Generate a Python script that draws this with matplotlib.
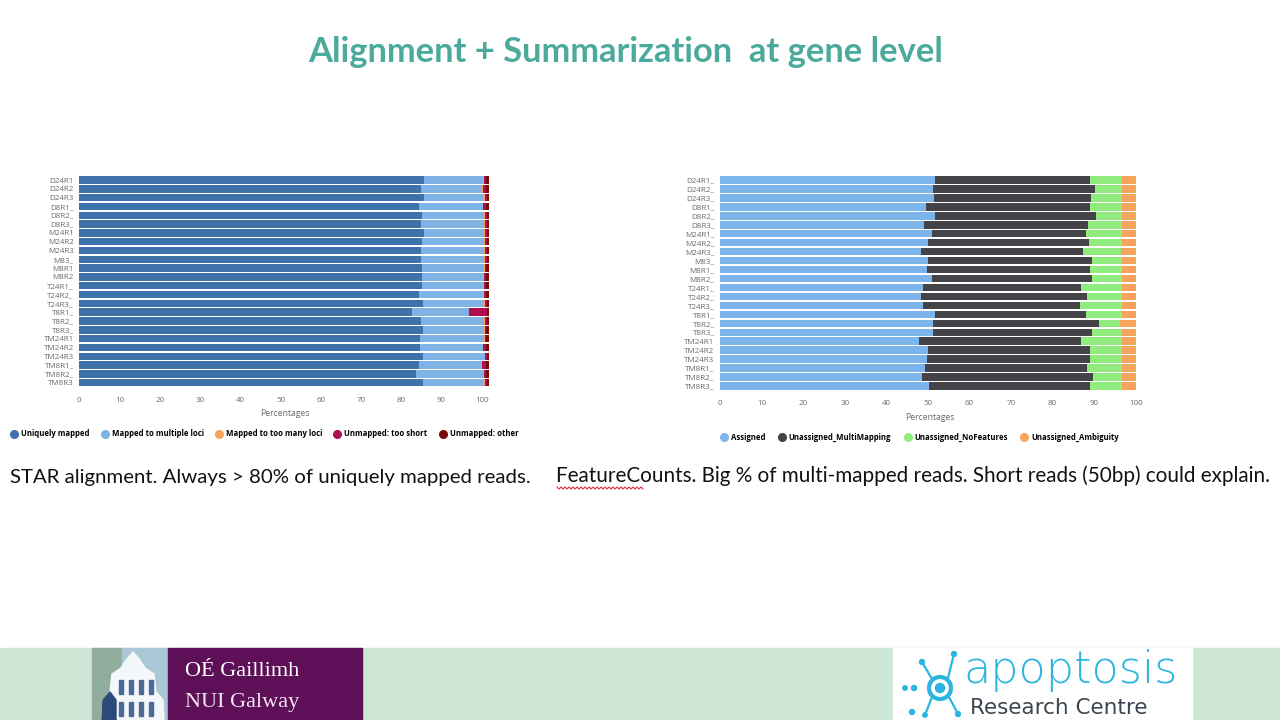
import numpy as np
import matplotlib
matplotlib.use("Agg")
import matplotlib.pyplot as plt
from matplotlib.lines import Line2D
from matplotlib.patches import Rectangle, Polygon, Circle

# ---------------- data ----------------
star_samples = ["D24R1", "D24R2", "D24R3", "D8R1_", "D8R2_", "D8R3_", "M24R1", "M24R2",
                "M24R3", "M83_", "M8R1", "M8R2", "T24R1_", "T24R2_", "T24R3_", "T8R1_",
                "T8R2_", "T8R3_", "TM24R1", "TM24R2", "TM24R3", "TM8R1_", "TM8R2_", "TM8R3"]
star_unique = [85.7, 84.8, 85.7, 84.4, 85.1, 84.9, 85.7, 85.2, 84.8, 84.9, 85.2, 85.2,
               85.1, 84.4, 85.3, 82.6, 84.9, 85.3, 84.7, 84.6, 85.3, 84.4, 83.7, 85.3]
star_multi = [14.7, 15.2, 14.9, 15.8, 15.5, 15.7, 14.9, 15.4, 15.8, 15.7, 15.3, 15.2,
              15.2, 16.0, 15.3, 14.2, 15.7, 15.2, 15.8, 15.6, 15.4, 15.4, 16.6, 15.3]
star_too_many = [0.2, 0.2, 0.2, 0.2, 0.2, 0.2, 0.2, 0.2, 0.2, 0.2, 0.2, 0.2,
                 0.2, 0.2, 0.2, 0.1, 0.2, 0.2, 0.2, 0.2, 0.2, 0.2, 0.2, 0.2]
star_too_short = [0.4, 0.8, 0.4, 0.7, 0.4, 0.4, 0.4, 0.4, 0.4, 0.4, 0.4, 0.5,
                  0.6, 0.5, 0.4, 4.4, 0.4, 0.4, 0.4, 0.7, 0.3, 1.0, 0.6, 0.4]
star_other = [0.7, 0.7, 0.5, 0.6, 0.5, 0.5, 0.5, 0.5, 0.5, 0.5, 0.6, 0.6,
              0.6, 0.6, 0.5, 0.4, 0.5, 0.6, 0.6, 0.6, 0.5, 0.7, 0.6, 0.5]
star_series = ["Uniquely mapped", "Mapped to multiple loci", "Mapped to too many loci",
               "Unmapped: too short", "Unmapped: other"]

fc_samples = ["D24R1_", "D24R2_", "D24R3_", "D8R1_", "D8R2_", "D8R3_", "M24R1_", "M24R2_",
              "M24R3_", "M83_", "M8R1_", "M8R2_", "T24R1_", "T24R2_", "T24R3_", "T8R1_",
              "T8R2_", "T8R3_", "TM24R1", "TM24R2", "TM24R3", "TM8R1_", "TM8R2_", "TM8R3_"]
fc_assigned = [51.6, 51.2, 51.4, 49.5, 51.6, 49.1, 50.9, 50.1, 48.3, 50.0, 49.8, 51.1,
               48.9, 48.3, 48.8, 51.6, 51.2, 51.3, 47.9, 50.0, 49.7, 49.4, 48.5, 50.2]
fc_multimapping = [37.5, 38.9, 37.9, 39.4, 38.8, 39.4, 37.2, 38.7, 39.1, 39.6, 39.3, 38.5,
                   37.9, 40.1, 37.8, 36.5, 39.9, 38.3, 39.0, 38.9, 39.2, 38.8, 41.2, 38.7]
fc_nofeatures = [7.5, 6.5, 7.3, 7.7, 6.2, 8.1, 8.5, 7.8, 9.0, 7.0, 7.5, 7.0,
                 9.8, 8.2, 10.0, 8.5, 5.2, 7.0, 9.7, 7.7, 7.7, 8.4, 6.9, 7.7]
fc_ambiguity = [3.4, 3.4, 3.4, 3.4, 3.4, 3.4, 3.4, 3.4, 3.6, 3.4, 3.4, 3.4,
                3.4, 3.4, 3.4, 3.4, 3.7, 3.4, 3.4, 3.4, 3.4, 3.4, 3.4, 3.4]
fc_series = ["Assigned", "Unassigned_MultiMapping", "Unassigned_NoFeatures",
             "Unassigned_Ambiguity"]

x_ticks = [0, 10, 20, 30, 40, 50, 60, 70, 80, 90, 100]

title_text = "Alignment + Summarization  at gene level"
caption_left = "STAR alignment. Always > 80% of uniquely mapped reads."
caption_right = "FeatureCounts. Big % of multi-mapped reads. Short reads (50bp) could explain."

# ---------------- figure ----------------
W, H = 1280, 720
fig = plt.figure(figsize=(12.8, 7.2), dpi=100, facecolor="white")
bg = fig.add_axes([0, 0, 1, 1], zorder=0)
bg.set_xlim(0, W)
bg.set_ylim(H, 0)
bg.axis("off")

fig.canvas.draw()
renderer = fig.canvas.get_renderer()


def fit_text(x, y, s, width_px, **kw):
    t = bg.text(x, y, s, **kw)
    w = t.get_window_extent(renderer).width
    t.set_fontsize(t.get_fontsize() * width_px / w)
    return t


def px_axes(left, top, right, bottom):
    return fig.add_axes([left / W, 1 - bottom / H, (right - left) / W, (bottom - top) / H], zorder=2)


TICK_COLOR = "#6b6b6b"


def stacked(ax, samples, series_vals, colors, xmax):
    y = np.arange(len(samples))
    left = np.zeros(len(samples))
    for vals, c in zip(series_vals, colors):
        vals = np.asarray(vals, dtype=float)
        ax.barh(y, vals, left=left, height=0.84, color=c, edgecolor="none")
        left += vals
    ax.set_ylim(len(samples) - 0.5, -0.5)
    ax.set_xlim(0, xmax)
    ax.set_yticks(y)
    ax.set_yticklabels(samples, fontsize=5.8, color=TICK_COLOR, family="Open Sans")
    ax.set_xticks(x_ticks)
    ax.set_xticklabels([str(v) for v in x_ticks], fontsize=5.8, color=TICK_COLOR, family="Open Sans")
    ax.tick_params(axis="both", length=0, pad=4)
    ax.tick_params(axis="x", pad=7)
    for sp in ax.spines.values():
        sp.set_visible(False)
    ax.set_xlabel("Percentages", fontsize=6.2, color=TICK_COLOR, family="Open Sans", labelpad=4)
    ax.set_facecolor("none")


# left chart (STAR)
star_colors = ["#3f72ab", "#7fb3e6", "#f7a35c", "#b30c4f", "#7a0a0a"]
axL = px_axes(79.3, 175.6, 79.3 + 4.024 * 102, 387.1)
stacked(axL, star_samples,
        [star_unique, star_multi, star_too_many, star_too_short, star_other],
        star_colors, 102)
hL = [Line2D([], [], marker="o", ls="none", ms=5.5, color=c) for c in star_colors]
fig.legend(hL, star_series, loc="center left", bbox_to_anchor=(7 / W, 1 - 434 / H),
           ncol=5, frameon=False, prop={"family": "Open Sans", "weight": "bold", "size": 5.6},
           handletextpad=0.4, columnspacing=1.45, handlelength=1.0, borderaxespad=0)

# right chart (featureCounts)
fc_colors = ["#7cb5ec", "#434348", "#90ed7d", "#f7a35c"]
axR = px_axes(720, 175.5, 720 + 4.157 * 101, 390.5)
stacked(axR, fc_samples,
        [fc_assigned, fc_multimapping, fc_nofeatures, fc_ambiguity],
        fc_colors, 101)
hR = [Line2D([], [], marker="o", ls="none", ms=5.5, color=c) for c in fc_colors]
fig.legend(hR, fc_series, loc="center left", bbox_to_anchor=(717 / W, 1 - 437.5 / H),
           ncol=4, frameon=False, prop={"family": "Open Sans", "weight": "bold", "size": 5.6},
           handletextpad=0.4, columnspacing=1.6, handlelength=1.0, borderaxespad=0)

# ---------------- slide text ----------------
fit_text(626, 52, title_text, 637, ha="center", va="center", fontsize=24,
         fontweight="bold", color="#4caa9d", family="Lato")
fit_text(10, 478, caption_left, 522, ha="left", va="center", fontsize=16,
         color="#111111", family="Lato")
tR = fit_text(556, 476, caption_right, 714, ha="left", va="center", fontsize=16,
              color="#111111", family="Lato")
# spell-check squiggle under "FeatureCounts"
zx = np.linspace(557, 643, 44)
zy = 488 + np.where(np.arange(44) % 2 == 0, -1.0, 1.0)
bg.plot(zx, zy, color="#e0302a", lw=0.8)

# ---------------- footer ----------------
bg.add_patch(Rectangle((0, 648), W, 72, color="#cde6d6", zorder=1))
# NUI Galway logo
bg.add_patch(Rectangle((92, 648), 30, 72, color="#91ad9e", zorder=2))
bg.add_patch(Rectangle((122, 648), 46, 72, color="#a9c7d4", zorder=2))
tower = [(102, 720), (103, 700), (110, 692), (112, 674), (121, 668), (126, 660), (133, 652),
         (140, 660), (145, 668), (154, 674), (156, 692), (163, 700), (164, 720)]
bg.add_patch(Polygon(tower, closed=True, color="#f4f7fa", zorder=3))
bg.add_patch(Polygon([(102, 720), (103, 700), (110, 692), (116, 700), (116, 720)],
                     closed=True, color="#2c4a78", zorder=4))
for wx in (119, 129, 139, 149):
    bg.add_patch(Rectangle((wx, 680), 4, 14, color="#4b6a96", zorder=4))
    bg.add_patch(Rectangle((wx, 702), 4, 14, color="#4b6a96", zorder=4))
bg.add_patch(Rectangle((168, 648), 194, 72, color="#5d0f57", zorder=2))
bg.text(185, 671, "OÉ Gaillimh", color="white", fontsize=16, family="Liberation Serif",
        ha="left", va="center", zorder=5)
bg.text(185, 702, "NUI Galway", color="#f2e6f0", fontsize=16, family="Liberation Serif",
        ha="left", va="center", zorder=5)
# apoptosis logo
bg.add_patch(Rectangle((893, 648), 299, 72, color="white", zorder=2))
cyan = "#2bb5df"
bg.add_patch(Circle((940, 688), 11, fill=False, ec=cyan, lw=3, zorder=5))
bg.add_patch(Circle((940, 688), 4.5, color=cyan, zorder=5))
for (a, b), r in [((905, 688), 2.2), ((914, 688), 2.5), ((922, 662), 2.5), ((954, 654), 2.5),
                  ((912, 712), 2.5), ((925, 715), 2.2), ((958, 714), 2.5)]:
    bg.add_patch(Circle((a, b), r, color=cyan, zorder=5))
for (a, b), (c, d) in [((922, 662), (932, 679)), ((954, 654), (948, 678)),
                       ((925, 715), (932, 697)), ((958, 714), (949, 697))]:
    bg.plot([a, c], [b, d], color=cyan, lw=1.6, zorder=5)
bg.text(963, 670, "apoptosis", color=cyan, fontsize=32, family="DejaVu Sans",
        fontweight="light", ha="left", va="center", zorder=5)
bg.text(970, 708, "Research Centre", color="#3d4650", fontsize=15.5, family="DejaVu Sans",
        ha="left", va="center", zorder=5)

fig.savefig("out.png", dpi=100, facecolor="white")
